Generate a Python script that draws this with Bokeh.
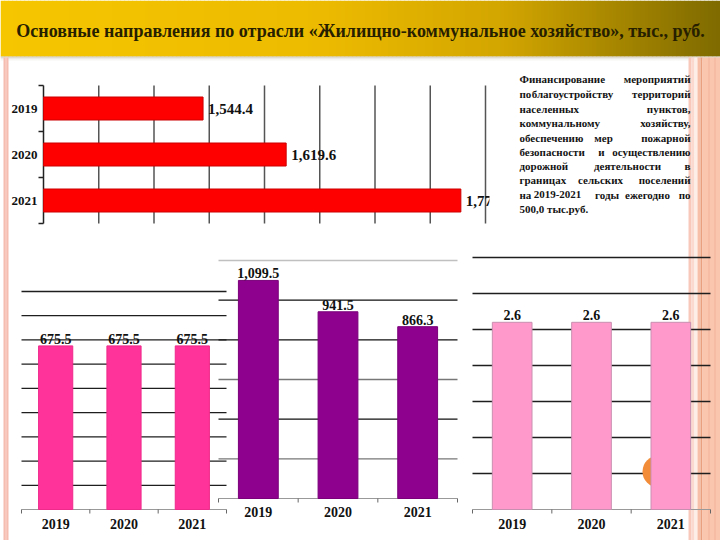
import numpy as np
from bokeh.plotting import figure
from bokeh.models import Range1d
from bokeh.core.properties import value
from bokeh.embed import file_html
from bokeh.resources import INLINE

# ---------------- data ----------------
TITLE = "Основные направления по отрасли «Жилищно-коммунальное хозяйство», тыс., руб."
years = ["2019", "2020", "2021"]
total_values = [1544.4, 1619.6, 1777.7]      # horizontal red bars
pink_values = [675.5, 675.5, 675.5]          # bottom-left chart
purple_values = [1099.5, 941.5, 866.3]       # bottom-middle chart
pale_values = [2.6, 2.6, 2.6]                # bottom-right chart

note_lines = [
    ["Финансирование", "мероприятий"],
    ["по", "благоустройству", "территорий"],
    ["населенных", "пунктов,"],
    ["коммунальному", "хозяйству,"],
    ["обеспечению", "мер", "пожарной"],
    ["безопасности", "и", "осуществлению"],
    ["дорожной", "деятельности", "в"],
    ["границах", "сельских", "поселений"],
    ["на", "2019-2021", "годы", "ежегодно", "по"],
    ["500,0  тыс.руб."],
]

# ---------------- layout / style ----------------
def F():
    return value("Liberation Serif")


W, H = 720, 540
note_y = [78, 93, 108, 122, 137, 151, 165, 179, 194, 208]
note_mid_x = [[], [572], [], [], [603], [601], [627], [600], [557, 606.5, 647], []]
NOTE_L, NOTE_R = 519, 690

p = figure(width=W, height=H, output_backend="svg", toolbar_location=None,
           x_range=Range1d(0, W), y_range=Range1d(H, 0), min_border=0,
           x_axis_location=None, y_axis_location=None,
           background_fill_color="white", border_fill_color="white")
p.outline_line_color = None
p.grid.visible = False

xr, yr = {}, {}


def add_ranges(name, px_x0, px_x1, vx0, vx1, px_y0, px_y1, vy0, vy1):
    sx = (vx1 - vx0) / (px_x1 - px_x0)
    xr[name] = Range1d(vx0 + (0 - px_x0) * sx, vx0 + (W - px_x0) * sx)
    sy = (vy1 - vy0) / (px_y1 - px_y0)
    yr[name] = Range1d(vy0 + (H - px_y0) * sy, vy0 + (0 - px_y0) * sy)
    return sx, sy


sx_h, _ = add_ranges("h", 43, 485, 1400, 1800, 85, 223, -0.5, 2.5)
add_ranges("a", 21, 226, -0.5, 2.5, 509, 291, 0, 900)
add_ranges("b", 218, 457, -0.5, 2.5, 498, 260, 0, 1200)
add_ranges("c", 472, 710, -0.5, 2.5, 509, 257, 0, 3.5)
p.extra_x_ranges = xr
p.extra_y_ranges = yr

# ---------------- slide decoration ----------------
stops = [(0.0, (246, 198, 0)), (0.45, (236, 186, 0)), (0.7, (210, 165, 0)), (1.0, (126, 106, 0))]
n = 180
edges = np.linspace(0, W, n + 1)
cols = []
for t in (edges[:-1] + edges[1:]) / 2 / W:
    for (t0, c0), (t1, c1) in zip(stops[:-1], stops[1:]):
        if t0 <= t <= t1:
            f = (t - t0) / (t1 - t0)
            c = tuple(int(round(a + (b - a) * f)) for a, b in zip(c0, c1))
            cols.append("#%02x%02x%02x" % c)
            break
p.quad(left=edges[:-1], right=edges[1:] + 0.6, top=0, bottom=56, fill_color=cols, line_color=None)
for i, c in enumerate(["#c9c0a8", "#dcd8cf", "#ebe9e5", "#f6f5f3"]):
    p.quad(left=0, right=W, top=56 + i, bottom=57 + i, fill_color=c, line_color=None)

# left stripe
p.quad(left=3, right=8, top=57, bottom=H, fill_color="#f5bcb0", line_color=None)
p.quad(left=5, right=6, top=57, bottom=H, fill_color="#fad6cd", line_color=None)
# right stripes
for l, r, c in [(688, 691, "#f8c9bb"), (691, 694, "#fbd9cf"), (694, 697, "#fdeee8"),
                (697, 700, "#f7bfa8"), (700, 702, "#e9a07f"), (702, 720, "#fbc6ae"),
                (708, 709, "#f3b299"), (714, 715, "#f3b299")]:
    p.quad(left=l, right=r, top=57, bottom=H, fill_color=c, line_color=None)

# title
p.text(x=[360], y=[30], text=[TITLE], text_align="center", text_baseline="middle",
       text_font=F(), text_font_style="bold", text_font_size="18px", text_color="#262000")

# ---------------- horizontal bar chart ----------------
idx = [0, 1, 2]
hgrid = np.arange(1450, 1801, 50)
p.segment(x0=hgrid, x1=hgrid, y0=-0.5, y1=2.5, line_color="#555555", line_width=1.5,
          x_range_name="h", y_range_name="h")
p.segment(x0=[1400], x1=[1400], y0=[-0.5], y1=[2.5], line_color="#222222", line_width=1.5,
          x_range_name="h", y_range_name="h")
hb = [-0.5, 0.5, 1.5, 2.5]
p.segment(x0=[1400 - 5 * sx_h] * 4, x1=[1400] * 4, y0=hb, y1=hb, line_color="#222222",
          line_width=1.5, x_range_name="h", y_range_name="h")
p.hbar(y=idx, left=1400, right=total_values, height=0.5, fill_color="#ff0000",
       line_color="#cc0000", x_range_name="h", y_range_name="h")
p.text(x=total_values, y=idx, text=[f"{v:,.1f}" for v in total_values], x_offset=5,
       text_baseline="middle", text_font=F(), text_font_style="bold", text_font_size="15px",
       text_color="#111111", x_range_name="h", y_range_name="h")
p.text(x=[1400] * 3, y=idx, text=years, x_offset=-6, text_align="right", text_baseline="middle",
       text_font=F(), text_font_style="bold", text_font_size="13px", text_color="#111111",
       x_range_name="h", y_range_name="h")
# clip overflow of last label at the plot edge
p.quad(left=489, right=516, top=192, bottom=226, fill_color="white", line_color=None)

# ---------------- note text ----------------
lx, ly, lt, cx, cy, ct, rx, ry, rt = [], [], [], [], [], [], [], [], []
for words, y, mids in zip(note_lines, note_y, note_mid_x):
    lx.append(NOTE_L); ly.append(y); lt.append(words[0])
    if len(words) > 1:
        rx.append(NOTE_R); ry.append(y); rt.append(words[-1])
        for w, m in zip(words[1:-1], mids):
            cx.append(m); cy.append(y); ct.append(w)
for xs, ys, ts, al in [(lx, ly, lt, "left"), (cx, cy, ct, "center"), (rx, ry, rt, "right")]:
    p.text(x=xs, y=ys, text=ts, text_align=al, text_baseline="middle", text_font=F(),
           text_font_style="bold", text_font_size="11px", text_color="#141414")


# ---------------- vertical bar charts ----------------
def vchart(name, vals, fill, outline, gvals, gcols, gwidth, base_px, label_px):
    p.segment(x0=[-0.5] * len(gvals), x1=[2.5] * len(gvals), y0=gvals, y1=gvals,
              line_color=gcols, line_width=gwidth, x_range_name=name, y_range_name=name)
    p.segment(x0=[-0.5], x1=[2.5], y0=[0], y1=[0], line_color="#999999", line_width=1.2,
              x_range_name=name, y_range_name=name)
    tk = [-0.5, 0.5, 1.5, 2.5]
    p.segment(x0=tk, x1=tk, y0=[base_px] * 4, y1=[base_px + 4] * 4, line_color="#666666",
              line_width=1, x_range_name=name)
    if name == "c":
        p.circle(x=[658], y=[471], radius=16, fill_color="#f28c38", line_color=None)
    p.vbar(x=idx, top=vals, bottom=0, width=0.5, fill_color=fill, line_color=outline,
           x_range_name=name, y_range_name=name)
    p.text(x=idx, y=vals, text=[f"{v:,.1f}" for v in vals], y_offset=-2, text_align="center",
           text_baseline="bottom", text_font=F(), text_font_style="bold",
           text_font_size="14px", text_color="#111111", x_range_name=name, y_range_name=name)
    p.text(x=idx, y=[label_px] * 3, text=years, text_align="center", text_baseline="middle",
           text_font=F(), text_font_style="bold", text_font_size="14px",
           text_color="#111111", x_range_name=name)


vchart("b", purple_values, "#8e008e", "#7a007a", [200, 400, 600, 800, 1000, 1200],
       ["#777777", "#111111", "#777777", "#111111", "#111111", "#c0c0c0"], 1.3, 498, 511)
vchart("a", pink_values, "#ff3399", "#ee2a8a", list(range(100, 901, 100)),
       ["#1e1e1e"] * 9, 1.3, 509, 523)
vchart("c", pale_values, "#ff99cc", "#c98fb0", [0.5, 1.0, 1.5, 2.0, 2.5, 3.0, 3.5],
       ["#1e1e1e"] * 7, 1.5, 509, 523)

open("out.html", "w").write(file_html(p, INLINE))
